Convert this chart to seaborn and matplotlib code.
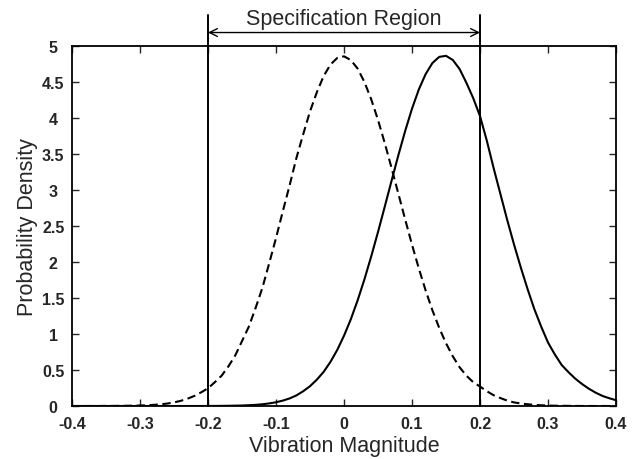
import numpy as np
import pandas as pd
import matplotlib
matplotlib.use("Agg")
import matplotlib.pyplot as plt
import seaborn as sns

# values (step 0.01)
x_vals = [-0.40, -0.39, -0.38, -0.37, -0.36, -0.35, -0.34, -0.33, -0.32, -0.31,
          -0.30, -0.29, -0.28, -0.27, -0.26, -0.25, -0.24, -0.23, -0.22, -0.21,
          -0.20, -0.19, -0.18, -0.17, -0.16, -0.15, -0.14, -0.13, -0.12, -0.11,
          -0.10, -0.09, -0.08, -0.07, -0.06, -0.05, -0.04, -0.03, -0.02, -0.01,
          0.00, 0.01, 0.02, 0.03, 0.04, 0.05, 0.06, 0.07, 0.08, 0.09,
          0.10, 0.11, 0.12, 0.13, 0.14, 0.15, 0.16, 0.17, 0.18, 0.19,
          0.20, 0.21, 0.22, 0.23, 0.24, 0.25, 0.26, 0.27, 0.28, 0.29,
          0.30, 0.31, 0.32, 0.33, 0.34, 0.35, 0.36, 0.37, 0.38, 0.39,
          0.40]

# dashed curve (centred near zero)
nominal_density = [0.000, 0.000, 0.000, 0.000, 0.000, 0.001, 0.001, 0.002, 0.003, 0.005,
                   0.007, 0.010, 0.016, 0.023, 0.034, 0.050, 0.072, 0.102, 0.140, 0.190,
                   0.245, 0.330, 0.420, 0.550, 0.700, 0.900, 1.100, 1.360, 1.640, 1.980,
                   2.330, 2.700, 3.060, 3.440, 3.770, 4.086, 4.350, 4.575, 4.735, 4.827,
                   4.850, 4.798, 4.680, 4.494, 4.254, 3.967, 3.644, 3.298, 2.942, 2.585,
                   2.237, 1.908, 1.603, 1.327, 1.083, 0.870, 0.689, 0.537, 0.420, 0.330,
                   0.270, 0.205, 0.150, 0.110, 0.075, 0.050, 0.035, 0.024, 0.016, 0.010,
                   0.007, 0.004, 0.003, 0.002, 0.001, 0.000, 0.000, 0.000, 0.000, 0.000,
                   0.000]

# solid curve (shifted towards +0.15)
shifted_density = [0.000, 0.000, 0.000, 0.000, 0.000, 0.000, 0.000, 0.000, 0.000, 0.000,
                   0.000, 0.000, 0.000, 0.000, 0.000, 0.000, 0.000, 0.000, 0.000, 0.000,
                   0.001, 0.001, 0.002, 0.003, 0.005, 0.007, 0.011, 0.016, 0.024, 0.036,
                   0.052, 0.075, 0.105, 0.147, 0.205, 0.275, 0.365, 0.473, 0.611, 0.777,
                   0.975, 1.203, 1.465, 1.756, 2.075, 2.414, 2.768, 3.127, 3.481, 3.817,
                   4.124, 4.390, 4.603, 4.757, 4.842, 4.857, 4.799, 4.673, 4.482, 4.270,
                   4.020, 3.680, 3.300, 2.940, 2.580, 2.240, 1.920, 1.620, 1.340, 1.100,
                   0.880, 0.715, 0.570, 0.470, 0.380, 0.305, 0.240, 0.185, 0.140, 0.108,
                   0.080]

x_ticks = [-0.4, -0.3, -0.2, -0.1, 0.0, 0.1, 0.2, 0.3, 0.4]
x_tick_labels = ["-0.4", "-0.3", "-0.2", "-0.1", "0", "0.1", "0.2", "0.3", "0.4"]
y_ticks = [0, 0.5, 1, 1.5, 2, 2.5, 3, 3.5, 4, 4.5, 5]
y_tick_labels = ["0", "0.5", "1", "1.5", "2", "2.5", "3", "3.5", "4", "4.5", "5"]

spec_limits = [-0.2, 0.2]
spec_label = "Specification Region"

df = pd.DataFrame({"x": x_vals, "nominal": nominal_density, "shifted": shifted_density})

sns.set_style("ticks")
plt.rcParams["font.family"] = ["Liberation Sans", "DejaVu Sans"]

fig = plt.figure(figsize=(6.36, 4.60), dpi=100)
ax = fig.add_axes([0.1132, 0.1152, 0.8554, 0.7837])

sns.lineplot(data=df, x="x", y="nominal", ax=ax, color="black",
             linewidth=1.5, linestyle=(0, (4, 2.2)))
sns.lineplot(data=df, x="x", y="shifted", ax=ax, color="black", linewidth=1.5)

ax.set_xlim(-0.4, 0.4)
ax.set_ylim(0, 5)
ax.set_xticks(x_ticks)
ax.set_xticklabels(x_tick_labels, fontweight="bold")
ax.set_yticks(y_ticks)
ax.set_yticklabels(y_tick_labels, fontweight="bold", ha="center")
ax.tick_params(direction="in", top=True, right=True, length=5, width=1,
               labelsize=11.5)
ax.tick_params(axis="x", pad=7)
ax.tick_params(axis="y", pad=13.5)

for side in ["left", "right", "top", "bottom"]:
    ax.spines[side].set_visible(True)
    ax.spines[side].set_linewidth(1.3)
    ax.spines[side].set_color("black")

# spec limit lines run above the axes box
for lim in spec_limits:
    ax.plot([lim, lim], [0, 5.43], color="black", linewidth=1.4, clip_on=False)

ax.annotate("", xy=(spec_limits[0], 5.18), xytext=(spec_limits[1], 5.18),
            xycoords="data", annotation_clip=False,
            arrowprops=dict(arrowstyle="<->", color="black", lw=1.0,
                            shrinkA=0, shrinkB=0, mutation_scale=14))
ax.text(0, 5.37, spec_label, ha="center", va="center", fontsize=15.5, clip_on=False)

ax.set_xlabel("Vibration Magnitude", fontsize=15.5, labelpad=3)
ax.set_ylabel("Probability Density", fontsize=15.5, labelpad=3)

fig.savefig("out.png", dpi=100)
